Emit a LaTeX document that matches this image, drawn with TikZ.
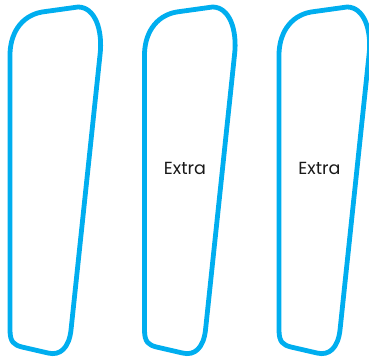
\documentclass[tikz,border=0pt]{standalone}
\usepackage{fontspec}
\setmainfont{Poppins}
\definecolor{bluecyan}{RGB}{0,174,239}
\tikzset{
  panel/.style={draw=bluecyan, line width=4.8pt, line join=round},
  label/.style={font=\fontsize{17.5}{20}\selectfont, text=black!90}
}
\begin{document}
\begin{tikzpicture}[x=1pt,y=-1pt]
\useasboundingbox (0,0) rectangle (369,357);
\foreach \dx in {0,134.5,269}{
  \draw[panel, shift={(\dx,0)}]
    (10,55) -- (10,330) .. controls (10,342) and (14,345) .. (22,347)
    -- (48,353) .. controls (60,356) and (69,348) .. (71,330)
    -- (100,55) .. controls (103,30) and (95,7) .. (78,7)
    -- (42,12) .. controls (20,16) and (10,35) .. (10,55) -- cycle;
}
\node[label] (e1) at (185,168) {Extra};
\node[label] (e2) at (319.5,168) {Extra};
\end{tikzpicture}
\end{document}
